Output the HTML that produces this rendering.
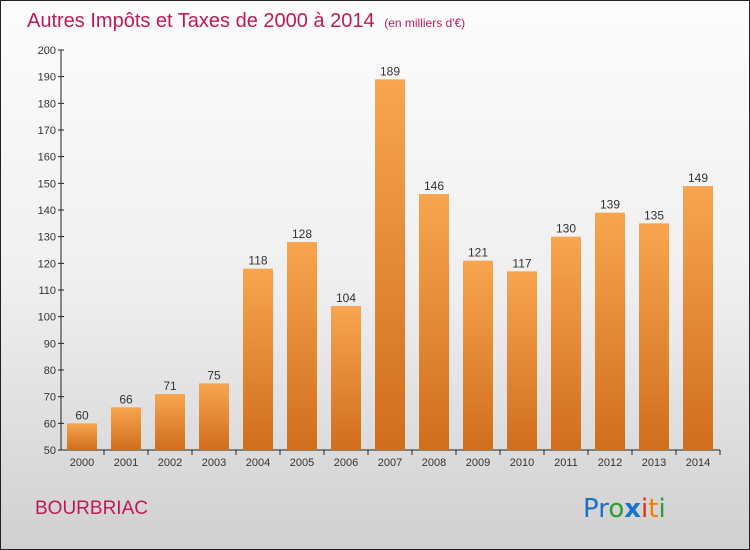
<!DOCTYPE html>
<html><head><meta charset="utf-8"><style>
html,body{margin:0;padding:0}
body{width:750px;height:550px;overflow:hidden;font-family:"Liberation Sans",sans-serif}
#frame{position:absolute;left:0;top:0;width:748px;height:548px;border:1px solid #222;background:linear-gradient(#fcfcfc 0%,#f0f0f0 50%,#d0d0d0 100%)}
</style></head><body>
<div id="frame">
<svg width="750" height="550" style="position:absolute;left:-1px;top:-1px">
<defs><linearGradient id="bg" x1="0" x2="0" y1="0" y2="1"><stop offset="0" stop-color="#f8a550"/><stop offset="1" stop-color="#d06e1c"/></linearGradient></defs>
<text x="27" y="27" font-size="20" fill="#c2185b">Autres Impôts et Taxes de 2000 à 2014 <tspan font-size="12" dx="4">(en milliers d'€)</tspan></text>
<g id="axes"></g><g id="bars"></g>
<text x="35" y="514" font-size="19" fill="#c2185b">BOURBRIAC</text>
<text x="583" y="517" font-size="26" font-family="DejaVu Sans"><tspan fill="#1a73c8">Pr</tspan><tspan fill="#2e9a3a">o</tspan><tspan fill="#1a73c8" font-weight="bold">x</tspan><tspan fill="#e03010">i</tspan><tspan fill="#f07f00">t</tspan><tspan fill="#2e9a3a">i</tspan></text>
</svg></div>
<script>
const categories=["2000","2001","2002","2003","2004","2005","2006","2007","2008","2009","2010","2011","2012","2013","2014"];
const values=[60,66,71,75,118,128,104,189,146,121,117,130,139,135,149];
const yTicks=[50,60,70,80,90,100,110,120,130,140,150,160,170,180,190,200];
const NS="http://www.w3.org/2000/svg";
const y=v=>450-(v-50)*400/150;
const x=i=>60+i*44;
function el(t,a,p,txt){const e=document.createElementNS(NS,t);for(const k in a)e.setAttribute(k,a[k]);if(txt!==undefined)e.textContent=txt;p.appendChild(e);return e;}
const ax=document.getElementById('axes'),bs=document.getElementById('bars');
const yl=el('line',{x1:61,x2:61,y1:50,y2:450,stroke:'#222'},ax);


const xl=el('line',{x1:61,x2:720,y1:450,y2:450,stroke:'#222'},ax);


yTicks.forEach(t=>{
 el('line',{x1:58,x2:64,y1:y(t),y2:y(t),stroke:'#222'},ax);
 const l=el('text',{x:56,y:y(t)+4,'font-size':11,fill:'#333','text-anchor':'end'},ax,t);
 
 
});
categories.forEach((c,i)=>{
 const cx=x(i)+22;
 el('line',{x1:x(i)+44,x2:x(i)+44,y1:450,y2:455,stroke:'#222'},ax);
 const l=el('text',{x:cx,y:466,'font-size':11,fill:'#333','text-anchor':'middle'},ax,c);
 
 
 const b=el('rect',{x:cx-15,y:y(values[i]),width:30,height:450-y(values[i]),fill:'url(#bg)'},bs);
 
 
 const v=el('text',{x:cx,y:y(values[i])-4,'font-size':12,fill:'#333','text-anchor':'middle'},bs,values[i]);
 
 
});
</script>
</body></html>
